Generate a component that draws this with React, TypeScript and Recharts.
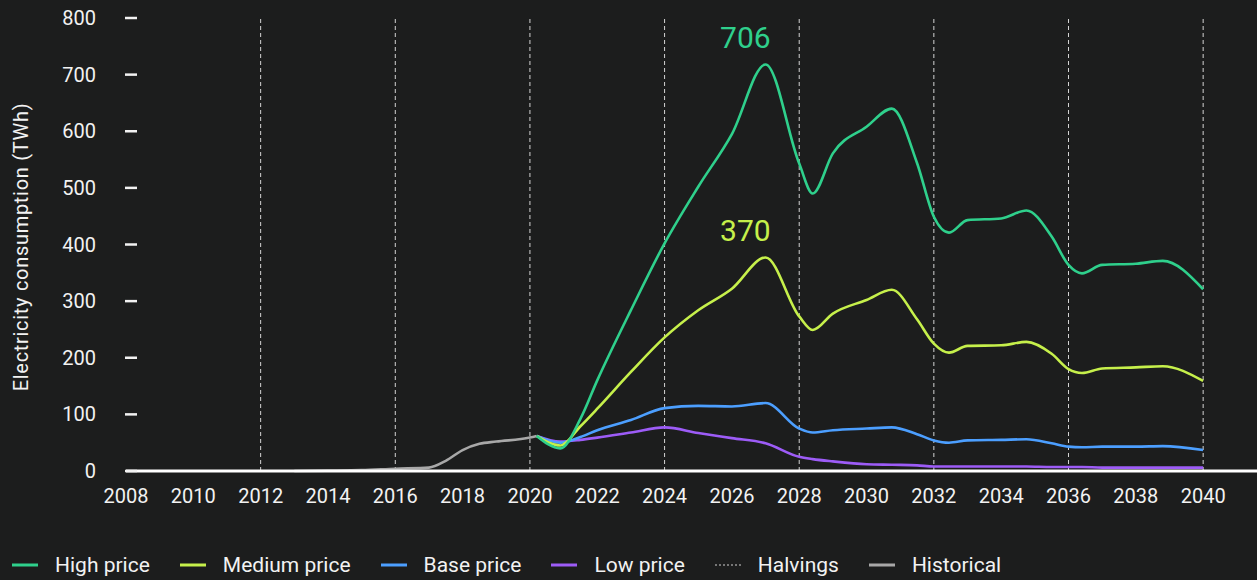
import React from "react";
import { LineChart, Line, XAxis, YAxis, ReferenceLine, ReferenceDot, Label } from "recharts";

const FORECAST_YEARS = [
  2020.2, 2020.9, 2021.5, 2022, 2023, 2024, 2025, 2026, 2027, 2028, 2028.4, 2029, 2030, 2030.75,
  2031.5, 2032, 2032.45, 2033, 2034, 2034.75, 2035.5, 2036, 2036.4, 2037, 2038, 2038.8, 2040,
];
const HIGH_PRICE = [62, 40, 92, 160, 284, 402, 502, 595, 718, 543, 490, 561, 608, 640, 544, 449, 421, 443, 446, 460, 414, 364, 349, 364, 366, 371, 321];
const MEDIUM_PRICE = [62, 45, 79, 110, 175, 236, 284, 322, 377, 273, 249, 278, 302, 320, 268, 225, 209, 221, 222, 228, 207, 180, 173, 181, 183, 185, 159];
const BASE_PRICE = [62, 50, 60, 72, 90, 111, 115, 114, 120, 75, 68, 72, 75, 77, 65, 54, 50, 54, 55, 56, 49, 43, 42, 43, 43, 44, 37];
const LOW_PRICE = [62, 52, 55, 59, 68, 77, 67, 58, 49, 25, 21, 17, 12, 11, 10, 8, 8, 8, 8, 8, 7, 7, 7, 6, 6, 6, 6];

const HIST_YEARS = [2013, 2014, 2015, 2016, 2017, 2017.5, 2018, 2018.5, 2019, 2020, 2020.2];
const HISTORICAL = [0, 0.6, 1.5, 4, 6, 18, 37, 48, 52, 59, 62];

const HALVINGS = [2012, 2016, 2020, 2024, 2028, 2032, 2036, 2040];
const X_TICKS = [2008, 2010, 2012, 2014, 2016, 2018, 2020, 2022, 2024, 2026, 2028, 2030, 2032, 2034, 2036, 2038, 2040];
const Y_TICKS = [0, 100, 200, 300, 400, 500, 600, 700, 800];

const PEAK_TEXTS = ["706", "370"];
const PEAK_YEARS = [2026.4, 2026.4];
const PEAK_LABEL_LEVELS = [765, 425];

const BG = "#1c1d1d";
const GREEN = "#2fd08c";
const LIME = "#c6f04b";
const BLUE = "#4c9fff";
const PURPLE = "#9d5cf7";
const GRAY = "#a8a8a8";
const TEXT = "#f2f2f2";
const FONT = "Roboto, sans-serif";

const forecastData = FORECAST_YEARS.map((year, i) => ({
  year,
  high: HIGH_PRICE[i],
  medium: MEDIUM_PRICE[i],
  base: BASE_PRICE[i],
  low: LOW_PRICE[i],
}));
const historicalData = HIST_YEARS.map((year, i) => ({ year, historical: HISTORICAL[i] }));
const peakColors = [GREEN, LIME];

const YTick = (props: any) => {
  const { x, y, payload } = props;
  return (
    <g>
      <text x={x - 30} y={y} dy="0.355em" textAnchor="end" fill={TEXT} fontSize={20} fontFamily={FONT}>
        {payload.value}
      </text>
      <line x1={x - 1} x2={x + 11} y1={y} y2={y} stroke={TEXT} strokeWidth={2.5} />
    </g>
  );
};

const XTick = (props: any) => {
  const { x, y, payload } = props;
  return (
    <text x={x} y={y + 32} textAnchor="middle" fill={TEXT} fontSize={20} fontFamily={FONT}>
      {payload.value}
    </text>
  );
};

const legendItems = [
  { name: "High price", color: GREEN, dashed: false },
  { name: "Medium price", color: LIME, dashed: false },
  { name: "Base price", color: BLUE, dashed: false },
  { name: "Low price", color: PURPLE, dashed: false },
  { name: "Halvings", color: "#d0d0d0", dashed: true },
  { name: "Historical", color: GRAY, dashed: false },
];

export default function App() {
  return (
    <div
      style={{
        position: "absolute",
        left: 0,
        top: 0,
        width: 1257,
        height: 580,
        background: BG,
        fontFamily: FONT,
        overflow: "hidden",
      }}
    >
      <LineChart width={1257} height={530} data={forecastData} margin={{ top: 18, right: 0, bottom: 0, left: 0 }}>
        <XAxis
          dataKey="year"
          type="number"
          domain={[2008, 2041.6]}
          ticks={X_TICKS}
          tick={<XTick />}
          tickLine={false}
          tickSize={0}
          tickMargin={0}
          axisLine={{ stroke: "#ffffff", strokeWidth: 3 }}
          height={59}
          allowDataOverflow
        />
        <YAxis
          type="number"
          domain={[0, 800]}
          ticks={Y_TICKS}
          tick={<YTick />}
          tickLine={false}
          tickSize={0}
          tickMargin={0}
          axisLine={false}
          width={126}
        >
          <Label
            content={() => (
              <text
                x={28}
                y={247}
                transform="rotate(-90, 28, 247)"
                textAnchor="middle"
                fill={TEXT}
                fontSize={20}
                letterSpacing={0.7}
                fontFamily={FONT}
              >
                Electricity consumption (TWh)
              </text>
            )}
          />
        </YAxis>
        {HALVINGS.map((h) => (
          <ReferenceLine key={h} x={h} stroke="#d4d4d4" strokeWidth={1} strokeDasharray="4 3" />
        ))}
        <Line
          data={historicalData}
          dataKey="historical"
          type="monotone"
          stroke={GRAY}
          strokeWidth={2.6}
          dot={false}
          isAnimationActive={false}
        />
        <Line dataKey="low" type="monotone" stroke={PURPLE} strokeWidth={2.6} dot={false} isAnimationActive={false} />
        <Line dataKey="base" type="monotone" stroke={BLUE} strokeWidth={2.6} dot={false} isAnimationActive={false} />
        <Line dataKey="medium" type="monotone" stroke={LIME} strokeWidth={2.6} dot={false} isAnimationActive={false} />
        <Line dataKey="high" type="monotone" stroke={GREEN} strokeWidth={2.6} dot={false} isAnimationActive={false} />
        {PEAK_TEXTS.map((t, i) => (
          <ReferenceDot
            key={t}
            x={PEAK_YEARS[i]}
            y={PEAK_LABEL_LEVELS[i]}
            r={0}
            fill="none"
            stroke="none"
            ifOverflow="visible"
            label={{ value: t, position: "center", fill: peakColors[i], fontSize: 30, fontFamily: FONT }}
          />
        ))}
      </LineChart>
      <div
        style={{
          position: "absolute",
          left: 12,
          top: 553,
          height: 24,
          display: "flex",
          alignItems: "center",
          gap: 30,
          color: TEXT,
          fontSize: 21,
        }}
      >
        {legendItems.map((item) => (
          <div key={item.name} style={{ display: "flex", alignItems: "center", gap: 17 }}>
            <svg width={26} height={4}>
              <line
                x1={0}
                x2={26}
                y1={2}
                y2={2}
                stroke={item.color}
                strokeWidth={item.dashed ? 1 : 3}
                strokeDasharray={item.dashed ? "2 2" : undefined}
              />
            </svg>
            <span style={{ lineHeight: "24px" }}>{item.name}</span>
          </div>
        ))}
      </div>
    </div>
  );
}
